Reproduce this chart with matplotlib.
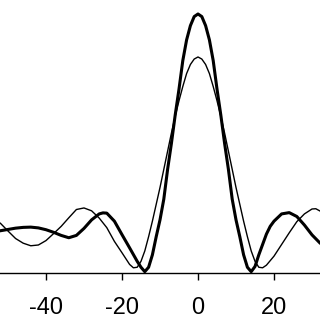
import numpy as np
import matplotlib
matplotlib.use("Agg")
import matplotlib.pyplot as plt

# values (thick peak normalised to 1)
thick_x = [-52, -50, -48, -46, -44, -42, -40, -38, -36, -34, -32, -30, -28, -26, -25, -24,
           -22, -20, -18, -16, -15, -14, -13, -12, -11, -10, -9, -8, -7, -6, -5, -4, -3,
           -2, -1, 0, 1, 2, 3, 4, 5, 6, 7, 8, 9, 10, 11, 12, 13, 14, 15, 16, 17, 18,
           19, 20, 22, 24, 26, 28, 30, 32]
thick_y = [0.163, 0.168, 0.173, 0.176, 0.177, 0.174, 0.167, 0.157, 0.145, 0.136, 0.145,
           0.172, 0.205, 0.228, 0.232, 0.231, 0.200, 0.148, 0.097, 0.045, 0.022, 0.005,
           0.022, 0.07, 0.14, 0.205, 0.285, 0.40, 0.50, 0.61, 0.71, 0.82, 0.90, 0.955,
           0.99, 1.0, 0.99, 0.955, 0.90, 0.82, 0.71, 0.61, 0.50, 0.40, 0.285, 0.205,
           0.14, 0.07, 0.022, 0.005, 0.025, 0.07, 0.11, 0.15, 0.18, 0.20, 0.228, 0.233,
           0.218, 0.185, 0.147, 0.117]

thin_x = [-52, -50, -48, -46, -44, -42, -40, -38, -36, -34, -32, -30, -28, -26, -24, -22,
          -20, -18, -17, -16, -15, -14, -13, -12, -11, -10, -9, -8, -7, -6, -5, -4, -3,
          -2, -1, 0, 1, 2, 3, 4, 5, 6, 7, 8, 9, 10, 11, 12, 13, 14, 15, 16, 17, 18,
          20, 22, 24, 26, 28, 30, 31, 32]
thin_y = [0.192, 0.162, 0.133, 0.115, 0.105, 0.108, 0.125, 0.152, 0.18, 0.213, 0.245,
          0.251, 0.24, 0.212, 0.175, 0.122, 0.078, 0.033, 0.02, 0.022, 0.045, 0.085,
          0.14, 0.20, 0.265, 0.33, 0.40, 0.47, 0.54, 0.605, 0.665, 0.72, 0.77, 0.805,
          0.826, 0.834, 0.826, 0.805, 0.77, 0.72, 0.665, 0.605, 0.54, 0.47, 0.40, 0.33,
          0.265, 0.20, 0.14, 0.085, 0.045, 0.022, 0.02, 0.03, 0.065, 0.11, 0.155, 0.198,
          0.228, 0.247, 0.248, 0.24]

xticks = [-40, -20, 0, 20]

plt.rcParams['font.family'] = ['Liberation Sans', 'DejaVu Sans']
plt.rcParams['axes.unicode_minus'] = False

fig = plt.figure(figsize=(3.2, 3.2), dpi=100)
ax = fig.add_axes([0, 0.147, 1, 0.853])

ax.plot(thin_x, thin_y, color='black', lw=1.0, solid_joinstyle='round')
ax.plot(thick_x, thick_y, color='black', lw=2.2, solid_joinstyle='round')

ax.set_xlim(-52.1, 32.1)
ax.set_ylim(0, 1.054)
ax.set_xticks(xticks)
ax.set_yticks([])
for s in ['left', 'right', 'top']:
    ax.spines[s].set_visible(False)
ax.spines['bottom'].set_linewidth(1.0)
ax.tick_params(axis='x', direction='out', length=5, width=1.0, pad=12, labelsize=17)

fig.savefig('out.png', dpi=100)
